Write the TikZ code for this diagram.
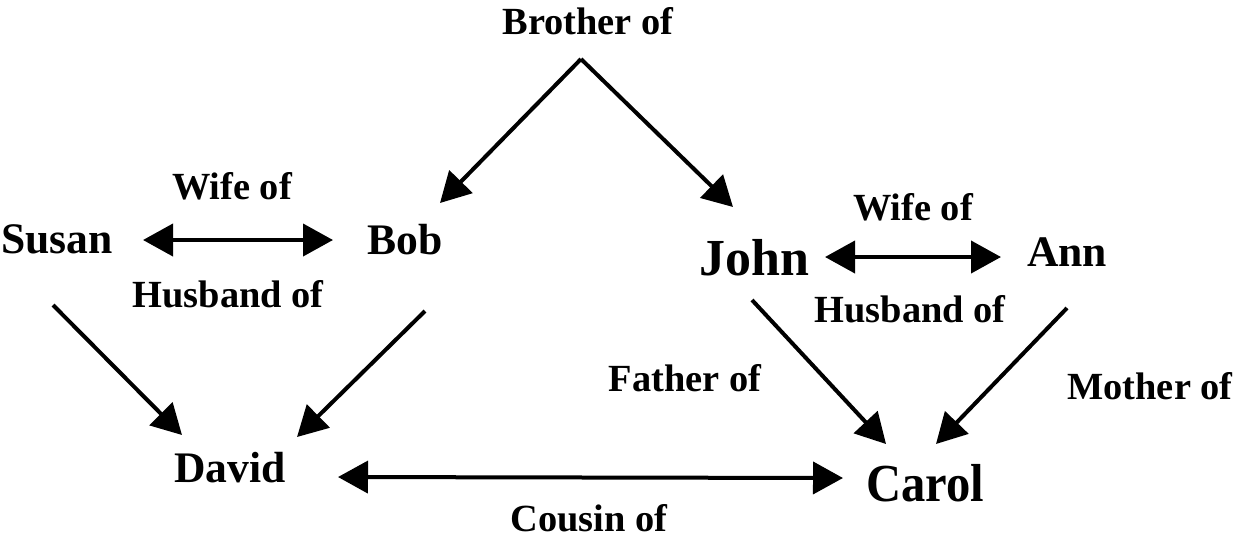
\documentclass[tikz,border=0pt]{standalone}
\usepackage{fontspec}
\setmainfont{Liberation Serif}
\usetikzlibrary{arrows.meta}
\begin{document}
\begin{tikzpicture}[x=0.5pt,y=-0.5pt,
  rel/.style={font=\fontsize{19.2}{22}\selectfont\bfseries, inner sep=0pt},
  person/.style={font=\fontsize{21.8}{26}\selectfont\bfseries, inner sep=0pt},
  tip/.tip={Triangle[length=15pt,width=16pt]},
  link/.style={line width=2pt, -tip},
  both/.style={line width=2pt, tip-tip}]
\path[use as bounding box] (0,0) rectangle (1236,538);

% people
\node[person] (susan) at (57,239) {Susan};
\node[person] (bob) at (405,240) {Bob};
\node[person, font=\fontsize{26}{30}\selectfont\bfseries] (john) at (754,258) {John};
\node[person] (ann) at (1067,252) {Ann};
\node[person] (david) at (230,468) {David};
\node[person, font=\fontsize{24.3}{28}\selectfont\bfseries, yscale=1.1] (carol) at (925,483) {Carol};

% relation labels
\node[rel] (brother) at (588,21) {Brother of};
\node[rel] (wifeL) at (232,186) {Wife of};
\node[rel] (husbandL) at (228,294) {Husband of};
\node[rel] (wifeR) at (913,207) {Wife of};
\node[rel] (husbandR) at (910,309) {Husband of};
\node[rel] (father) at (685,378) {Father of};
\node[rel] (mother) at (1150,386) {Mother of};
\node[rel] (cousin) at (589,518) {Cousin of};

% connector ends
\coordinate (apex) at (581,59);
\coordinate (bobIn) at (440,203);
\coordinate (johnIn) at (733,207);
\coordinate (susanR) at (143,240);
\coordinate (bobL) at (333,240);
\coordinate (johnR) at (825,257);
\coordinate (annL) at (1001,257);
\coordinate (susanOut) at (53,305);
\coordinate (bobOut) at (425,311);
\coordinate (davidInL) at (182,435);
\coordinate (davidInR) at (297,437);
\coordinate (johnOut) at (752,300);
\coordinate (annOut) at (1067,308);
\coordinate (carolInL) at (886,444);
\coordinate (carolInR) at (936,444);
\coordinate (davidR) at (338,477);
\coordinate (carolL) at (843,478);

% connectors
\draw[link] (apex) -- (bobIn);
\draw[link] (apex) -- (johnIn);
\draw[both] (susanR) -- (bobL);
\draw[both] (johnR) -- (annL);
\draw[link] (susanOut) -- (davidInL);
\draw[link] (bobOut) -- (davidInR);
\draw[link] (johnOut) -- (carolInL);
\draw[link] (annOut) -- (carolInR);
\draw[both] (davidR) -- (carolL);
\end{tikzpicture}
\end{document}
